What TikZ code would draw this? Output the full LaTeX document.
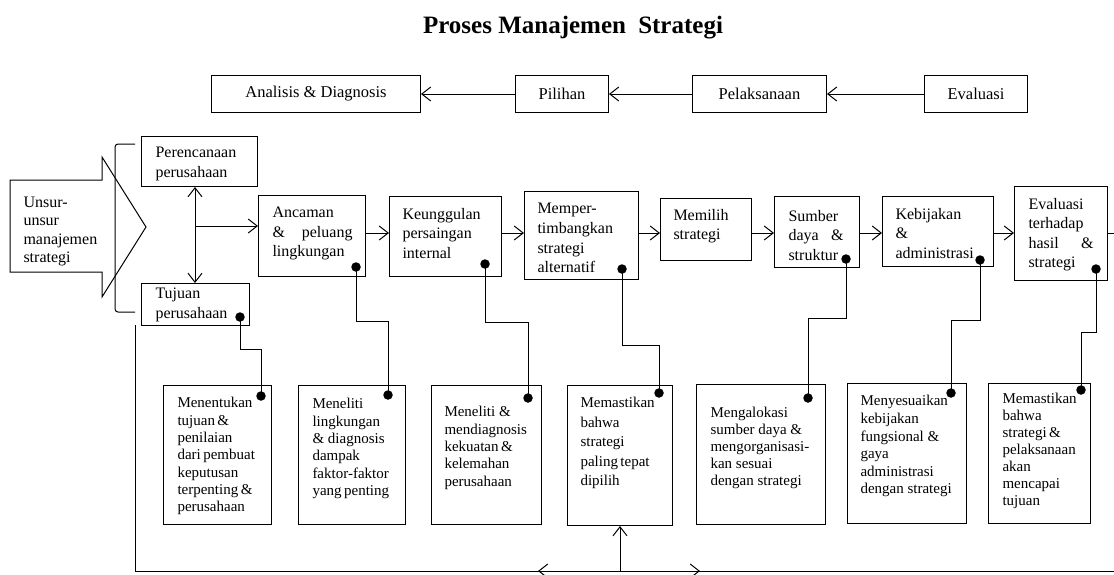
\documentclass[tikz,border=0pt]{standalone}
\usepackage{fontspec}
\setmainfont{Liberation Serif}
\usetikzlibrary{arrows.meta,calc}

\begin{document}
\begin{tikzpicture}[x=1pt,y=-1pt,
  line width=1pt,
  box/.style={draw, line width=1pt, inner sep=0pt, anchor=north west},
  topbox/.style={box, minimum height=37pt, font=\fontsize{16.5}{19}\selectfont},
  txt/.style={inner sep=0pt, anchor=north west, align=left, font=\fontsize{16}{19.5}\selectfont},
  small/.style={inner sep=0pt, anchor=north west, align=left, font=\fontsize{15}{17.3}\selectfont},
  arr/.style={-{Straight Barb[length=9pt,width=14pt]}},
  arrboth/.style={{Straight Barb[length=9pt,width=14pt]}-{Straight Barb[length=9pt,width=14pt]}},
  dot/.style={circle, fill=black, inner sep=0pt, minimum size=9.5pt}
]
\useasboundingbox (0,0) rectangle (1114,574);
\clip (0,0) rectangle (1114,574);

% title
\node[font=\fontsize{25}{28}\selectfont\bfseries] (title) at (573,28) {Proses Manajemen\hspace{6pt} Strategi};

% top row of stages
\node[topbox, minimum width=209pt] (ana) at (211,75) {Analisis \& Diagnosis};
\node[topbox, minimum width=93pt]  (pil) at (515,75) {Pilihan};
\node[topbox, minimum width=134pt] (pel) at (692,75) {Pelaksanaan};
\node[topbox, minimum width=103pt] (evl) at (924,75) {Evaluasi};
\draw[arr] (pil.west) -- (ana.east);
\draw[arr] (pel.west) -- (pil.east);
\draw[arr] (evl.west) -- (pel.east);

% block arrow with the elements
\draw (10,180) -- (102,180) -- (102,157) -- (146,227) -- (102,297) -- (102,272) -- (10,272) -- cycle;
\node[txt, font=\fontsize{16}{18.3}\selectfont] (unsur) at (23,196.7) {Unsur-\\unsur\\manajemen\\strategi};

% bracket
\draw[rounded corners=3pt] (135,144) -- (115,144) -- (115,312) -- (135,312);

% planning and goals
\node[box, minimum width=116pt, minimum height=50pt] (per) at (141,136) {};
\node[txt] (perT) at (155,146.7) {Perencanaan\\perusahaan};
\node[box, minimum width=108pt, minimum height=42pt] (tuj) at (141,283) {};
\node[txt] (tujT) at (155,287.7) {Tujuan\\perusahaan};

\coordinate (vx) at (195,0);
\coordinate (jn) at (195,226);
\coordinate (row) at (0,233);

% main process chain
\node[box, minimum width=107pt, minimum height=81pt] (anc) at (258,195) {};
\node[txt] (ancT) at (272,206.7) {Ancaman\\\hbox to 80pt{\&\hfill peluang}\\lingkungan};
\node[box, minimum width=112pt, minimum height=80pt] (keu) at (389,196) {};
\node[txt] (keuT) at (402,207.7) {Keunggulan\\persaingan\\internal};
\node[box, minimum width=114pt, minimum height=88pt] (mem) at (524,191) {};
\node[txt, font=\fontsize{16}{19.7}\selectfont] (memT) at (537,202.7) {Memper-\\timbangkan\\strategi\\alternatif};
\node[box, minimum width=91pt, minimum height=62pt] (mil) at (660,198) {};
\node[txt] (milT) at (673,208.7) {Memilih\\strategi};
\node[box, minimum width=85pt, minimum height=71pt] (sum) at (774,196) {};
\node[txt] (sumT) at (788,209.7) {Sumber\\\hbox to 55pt{daya\hfill\&}\\struktur};
\node[box, minimum width=111pt, minimum height=70pt] (keb) at (882,196) {};
\node[txt] (kebT) at (895,207.7) {Kebijakan\\\&\\administrasi};
\node[box, minimum width=93pt, minimum height=94pt] (eva) at (1014,186) {};
\node[txt] (evaT) at (1028,197.7) {Evaluasi\\terhadap\\\hbox to 65pt{hasil\hfill\&}\\strategi};

\draw[arrboth] (per.south -| vx) -- (tuj.north -| vx);
\draw[arr] (jn) -- (anc.west |- jn);
\draw[arr] (anc.east |- row) -- (keu.west |- row);
\draw[arr] (keu.east |- row) -- (mem.west |- row);
\draw[arr] (mem.east |- row) -- (mil.west |- row);
\draw[arr] (mil.east |- row) -- (sum.west |- row);
\draw[arr] (sum.east |- row) -- (keb.west |- row);
\draw[arr] (keb.east |- row) -- (eva.west |- row);
\coordinate (outR) at (1120,233);
\draw (eva.east |- row) -- (outR);

% description boxes
\node[box, minimum width=108pt, minimum height=139pt] (b1) at (163,385) {};
\node[small] (b1T) at (177,397) {Menentukan\\tujuan\,\&\\penilaian\\dari\,pembuat\\keputusan\\terpenting\,\&\\perusahaan};
\node[box, minimum width=107pt, minimum height=139pt] (b2) at (298,385) {};
\node[small] (b2T) at (312,398) {Meneliti\\lingkungan\\\& diagnosis\\dampak\\faktor-faktor\\yang\,penting};
\node[box, minimum width=110pt, minimum height=139pt] (b3) at (431,385) {};
\node[small] (b3T) at (444,406) {Meneliti \&\\mendiagnosis\\kekuatan\,\&\\kelemahan\\perusahaan};
\node[box, minimum width=105pt, minimum height=140pt] (b4) at (567,385) {};
\node[small, font=\fontsize{15}{19.5}\selectfont] (b4T) at (580,397) {Memastikan\\bahwa\\strategi\\paling\,tepat\\dipilih};
\node[box, minimum width=129pt, minimum height=140pt] (b5) at (696,384) {};
\node[small, font=\fontsize{15}{17}\selectfont] (b5T) at (710,407) {Mengalokasi\\sumber daya \&\\mengorganisasi-\\kan sesuai\\dengan strategi};
\node[box, minimum width=119pt, minimum height=140pt] (b6) at (847,383) {};
\node[small, font=\fontsize{15}{17.6}\selectfont] (b6T) at (860,395) {Menyesuaikan\\kebijakan\\fungsional \&\\gaya\\administrasi\\dengan strategi};
\node[box, minimum width=102pt, minimum height=140pt] (b7) at (988,383) {};
\node[small, font=\fontsize{15}{17}\selectfont] (b7T) at (1002,393) {Memastikan\\bahwa\\strategi\,\&\\pelaksanaan\\akan\\mencapai\\tujuan};

% link dots
\node[dot] (tTuj) at (240,317) {};
\node[dot] (tAnc) at (356,267) {};
\node[dot] (tKeu) at (485,264) {};
\node[dot] (tMem) at (622,269) {};
\node[dot] (tSum) at (846,259) {};
\node[dot] (tKeb) at (980,260) {};
\node[dot] (tEva) at (1096,269) {};
\node[dot] (dB1) at (261,396) {};
\node[dot] (dB2) at (388,395) {};
\node[dot] (dB3) at (528,398) {};
\node[dot] (dB4) at (659,393) {};
\node[dot] (dB5) at (808,398) {};
\node[dot] (dB6) at (951,393) {};
\node[dot] (dB7) at (1081,390) {};

% elbow links from each stage to its description
\draw (tTuj.center) -- ++(0,32) -| (dB1.center);
\draw (tAnc.center) -- ++(0,54) -| (dB2.center);
\draw (tKeu.center) -- ++(0,58) -| (dB3.center);
\draw (tMem.center) -- ++(0,76) -| (dB4.center);
\draw (tSum.center) -- ++(0,59) -| (dB5.center);
\draw (tKeb.center) -- ++(0,60) -| (dB6.center);
\draw (tEva.center) -- ++(0,63) -| (dB7.center);

% feedback line along the bottom
\coordinate (fbTop) at (135,325);
\coordinate (fbCorner) at (135,571);
\coordinate (fbEnd) at (1120,571);
\coordinate (hub) at (b4.south |- fbCorner);
\coordinate (tipL) at (538,571);
\coordinate (tipR) at (700,571);
\draw (fbTop) -- (fbCorner) -- (fbEnd);
\draw[arr] (hub) -- (b4.south);
\draw[arr] (hub) -- (tipL);
\draw[arr] (hub) -- (tipR);
\end{tikzpicture}
\end{document}
